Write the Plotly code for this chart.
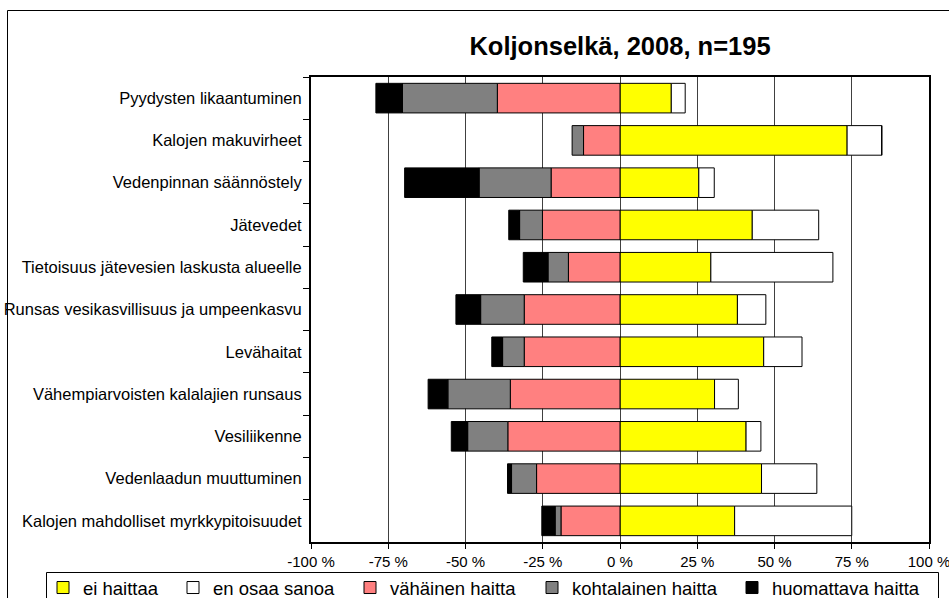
import plotly.graph_objects as go

# ---- data (percent of respondents) ----
categories = [
    "Pyydysten likaantuminen",
    "Kalojen makuvirheet",
    "Vedenpinnan säännöstely",
    "Jätevedet",
    "Tietoisuus jätevesien laskusta alueelle",
    "Runsas vesikasvillisuus ja umpeenkasvu",
    "Levähaitat",
    "Vähempiarvoisten kalalajien runsaus",
    "Vesiliikenne",
    "Vedenlaadun muuttuminen",
    "Kalojen mahdolliset myrkkypitoisuudet",
]
ei_haittaa = [16.6, 73.5, 25.5, 42.8, 29.4, 38.0, 46.5, 30.6, 40.8, 45.8, 37.1]
en_osaa_sanoa = [4.5, 11.2, 5.0, 21.5, 39.5, 9.2, 12.4, 7.7, 4.8, 17.9, 37.9]
vahainen = [39.7, 11.8, 22.3, 25.1, 16.7, 31.0, 31.0, 35.5, 36.3, 27.0, 19.1]
kohtalainen = [30.7, 3.7, 23.3, 7.4, 6.6, 14.1, 7.0, 20.2, 13.0, 8.1, 1.9]
huomattava = [8.6, 0.0, 24.1, 3.5, 8.0, 8.0, 3.5, 6.4, 5.3, 1.3, 4.3]

tick_vals = [-100, -75, -50, -25, 0, 25, 50, 75, 100]
tick_text = ["-100 %", "-75 %", "-50 %", "-25 %", "0 %", "25 %", "50 %", "75 %", "100 %"]

W, H = 949, 598
ML, MR, MT, MB = 311, 20, 77, 56
PW, PH = W - ML - MR, H - MT - MB


def px_x(p):
    return (p - ML) / PW


def px_y(p):
    return (H - MB - p) / PH


series = [
    ("ei haittaa", ei_haittaa, 1, "#FFFF00"),
    ("en osaa sanoa", en_osaa_sanoa, 1, "#FFFFFF"),
    ("vähäinen haitta", vahainen, -1, "#FF8080"),
    ("kohtalainen haitta", kohtalainen, -1, "#808080"),
    ("huomattava haitta", huomattava, -1, "#000000"),
]
# left edge of each legend entry's text (pixels)
legend_text_x = [83, 213, 390, 572, 772]

font_family = "Liberation Sans, Arial, sans-serif"

fig = go.Figure()
legend_layouts = {}
for i, (name, vals, sign, color) in enumerate(series):
    lname = "legend" if i == 0 else f"legend{i + 1}"
    fig.add_trace(go.Bar(
        y=categories,
        x=[sign * v for v in vals],
        name=name,
        orientation="h",
        legend=lname,
        showlegend=True,
        marker=dict(color=color, line=dict(color="#000000", width=1)),
        customdata=vals,
        hovertemplate="%{y}<br>" + name + ": %{customdata} %<extra></extra>",
    ))
    legend_layouts[lname] = dict(
        orientation="h",
        xref="container", yref="container",
        x=(legend_text_x[i] - 40) / W, xanchor="left",
        y=1 - 588 / H, yanchor="middle",
        font=dict(size=18.5, family=font_family, color="#000000"),
        itemwidth=30,
        bgcolor="rgba(0,0,0,0)",
        borderwidth=0,
        itemclick=False, itemdoubleclick=False,
    )

fig.update_layout(
    width=W, height=H,
    margin=dict(l=ML, r=MR, t=MT, b=MB, pad=0, autoexpand=False),
    paper_bgcolor="#FFFFFF",
    plot_bgcolor="#FFFFFF",
    barmode="relative",
    bargap=0.3,
    showlegend=True,
    font=dict(family=font_family, color="#000000"),
    title=dict(
        text="<b>Koljonselkä, 2008, n=195</b>",
        x=px_x(620), xref="paper", xanchor="center",
        y=1 - 46 / H, yref="container", yanchor="middle",
        font=dict(size=25.5, family=font_family, color="#000000"),
    ),
    xaxis=dict(
        range=[-100, 100],
        tickvals=tick_vals,
        ticktext=tick_text,
        ticks="outside", ticklen=5, tickcolor="#000000", tickwidth=1,
        ticklabeloverflow="allow",
        showgrid=True, gridcolor="#404040", gridwidth=1,
        zeroline=False,
        showline=True, linecolor="#000000", linewidth=2, mirror=True,
        tickfont=dict(size=15, family=font_family, color="#000000"),
        automargin=False,
        fixedrange=True,
    ),
    yaxis=dict(
        categoryorder="array", categoryarray=categories,
        range=[len(categories) - 0.5, -0.5],
        ticks="outside", ticklen=6, tickcolor="#000000", tickwidth=1,
        tickson="boundaries",
        ticklabelstandoff=4,
        showgrid=False, zeroline=False,
        showline=True, linecolor="#000000", linewidth=2, mirror=True,
        tickfont=dict(size=16.5, family=font_family, color="#000000"),
        automargin=False,
        fixedrange=True,
    ),
    shapes=[
        # outer chart frame
        dict(type="rect", xref="paper", yref="paper",
             x0=px_x(7.5), x1=px_x(952), y0=px_y(10.5), y1=px_y(602),
             line=dict(color="#000000", width=1), fillcolor="rgba(0,0,0,0)", layer="below"),
        # legend frame
        dict(type="rect", xref="paper", yref="paper",
             x0=px_x(46.5), x1=px_x(938.5), y0=px_y(572.5), y1=px_y(602),
             line=dict(color="#000000", width=1), fillcolor="rgba(0,0,0,0)", layer="below"),
    ],
    **legend_layouts,
)

fig.write_html(
    "out.html",
    config={"displayModeBar": False},
    post_script="document.body.style.margin='0px';document.body.style.overflow='hidden';",
)
